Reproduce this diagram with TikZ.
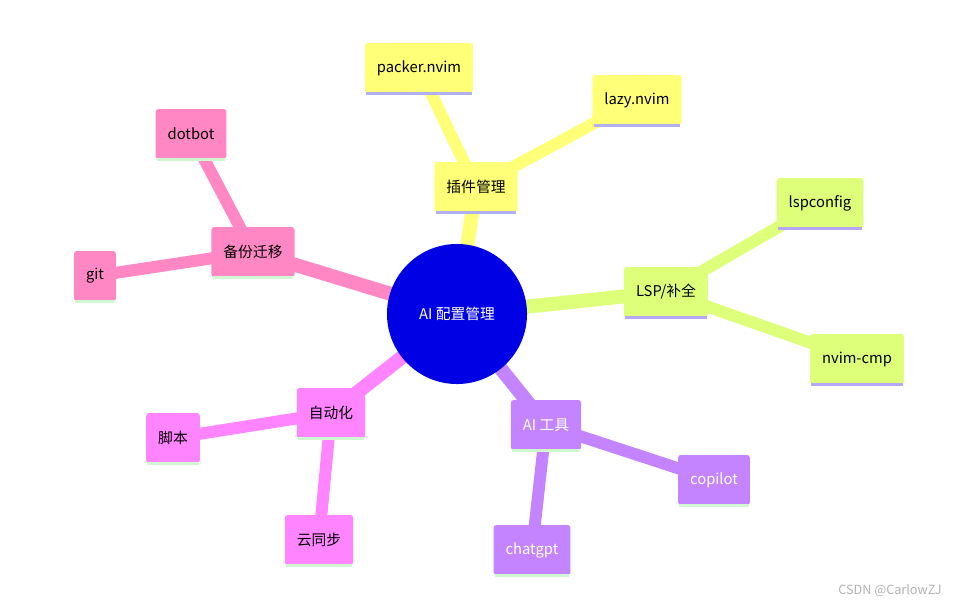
\documentclass[tikz,border=0pt]{standalone}
\usepackage{fontspec}
\setmainfont{Noto Sans CJK SC}
\usetikzlibrary{positioning}
\definecolor{yel}{HTML}{FFFF78}
\definecolor{grn}{HTML}{DDFF7A}
\definecolor{pur}{HTML}{C584FF}
\definecolor{mag}{HTML}{FF84FF}
\definecolor{pnk}{HTML}{FF88C4}
\definecolor{lav}{HTML}{B0B0F0}
\definecolor{mint}{HTML}{D0F8D0}
\tikzset{
	box/.style={rounded corners=2pt,minimum height=1.25cm,inner xsep=0.3cm,font=\fontsize{10.5}{12}\selectfont},
	trunk/.style={line width=0.35cm},
	twig/.style={line width=0.3cm}
}
\newcommand{\stripe}[2]{\draw[#1,line width=0.08cm] ([xshift=1pt]#2.south west) -- ([xshift=-1pt]#2.south east);}
\begin{document}
\begin{tikzpicture}[x=0.025cm,y=-0.025cm]
		\useasboundingbox (0,0) rectangle (972,608);
		\node[circle,fill=blue!90!black,minimum size=3.5cm,text=white,font=\fontsize{10.5}{12}\selectfont] (root) at (457,314) {AI 配置管理};
		% categories
		\node[box,fill=yel] (plug) at (476,187) {插件管理};
		\node[box,fill=grn] (lsp) at (666,292) {LSP/补全};
		\node[box,fill=pur,text=white] (ai) at (546,425) {AI 工具};
		\node[box,fill=mag] (auto) at (331,413) {自动化};
		\node[box,fill=pnk] (bak) at (253,252) {备份迁移};
		% leaves
		\node[box,fill=yel] (packer) at (419,68) {packer.nvim};
		\node[box,fill=yel] (lazy) at (637,100) {lazy.nvim};
		\node[box,fill=grn] (lspc) at (820,203) {lspconfig};
		\node[box,fill=grn] (cmp) at (857,359) {nvim-cmp};
		\node[box,fill=pur,text=white] (copi) at (714,480) {copilot};
		\node[box,fill=pur,text=white] (gpt) at (532,550) {chatgpt};
		\node[box,fill=mag] (script) at (173,438) {脚本};
		\node[box,fill=mag] (sync) at (319,540) {云同步};
		\node[box,fill=pnk] (dot) at (191,134) {dotbot};
		\node[box,fill=pnk] (git) at (95,276) {git};
		\begin{scope}[on background layer/.style={}]
		\end{scope}
		% connectors (drawn under the nodes)
		\begin{pgfinterruptboundingbox}\end{pgfinterruptboundingbox}
		\pgfdeclarelayer{bg}\pgfsetlayers{bg,main}
		\begin{pgfonlayer}{bg}
		\draw[trunk,yel] (root.center) -- (plug.center);
		\draw[trunk,grn] (root.center) -- (lsp.center);
		\draw[trunk,pur] (root.center) -- (ai.center);
		\draw[trunk,mag] (root.center) -- (auto.center);
		\draw[trunk,pnk] (root.center) -- (bak.center);
		\draw[twig,yel] (plug.center) -- (packer.center);
		\draw[twig,yel] (plug.center) -- (lazy.center);
		\draw[twig,grn] (lsp.center) -- (lspc.center);
		\draw[twig,grn] (lsp.center) -- (cmp.center);
		\draw[twig,pur] (ai.center) -- (copi.center);
		\draw[twig,pur] (ai.center) -- (gpt.center);
		\draw[twig,mag] (auto.center) -- (script.center);
		\draw[twig,mag] (auto.center) -- (sync.center);
		\draw[twig,pnk] (bak.center) -- (dot.center);
		\draw[twig,pnk] (bak.center) -- (git.center);
		\end{pgfonlayer}
		\stripe{lav}{plug} \stripe{lav}{packer} \stripe{lav}{lazy}
		\stripe{lav!80!pur}{lsp} \stripe{lav!80!pur}{lspc} \stripe{lav!80!pur}{cmp}
		\stripe{mint}{ai} \stripe{mint}{copi} \stripe{mint}{gpt}
		\stripe{mint}{auto} \stripe{mint}{script} \stripe{mint}{sync}
		\stripe{mint}{bak} \stripe{mint}{dot} \stripe{mint}{git}
		\node[text=gray!60,font=\fontsize{9}{10}\selectfont] (mark) at (890,591) {CSDN @CarlowZJ};
\end{tikzpicture}
\end{document}
